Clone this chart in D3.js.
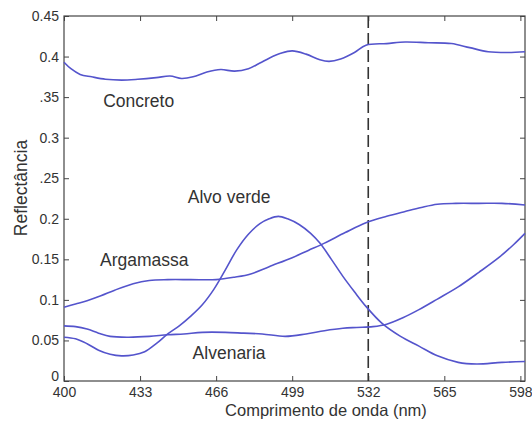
<!DOCTYPE html>
<html>
<head>
<meta charset="utf-8">
<script src="https://d3js.org/d3.v7.min.js"></script>
<style>
  body { margin: 0; background: #fff; }
  text { font-family: "Liberation Sans", Arial, sans-serif; fill: #333; }
</style>
</head>
<body>
<script>
// wavelength (nm) / reflectance per material
const concretoWl  = [400,403,407,412,418,425,432,440,446,451,456,462,468,474,480,485,489,494,499,505,511,515,520,526,531,540,548,558,568,576,584,592,600];
const concretoVal = [0.393,0.385,0.378,0.375,0.372,0.371,0.372,0.374,0.376,0.373,0.375,0.381,0.384,0.382,0.385,0.392,0.398,0.404,0.407,0.403,0.396,0.394,0.397,0.405,0.414,0.416,0.418,0.417,0.416,0.411,0.406,0.405,0.406];

const argamassaWl  = [400,405,410,416,422,430,437,445,455,466,474,481,489,499,506,513,522,531,540,548,555,562,570,580,590,600];
const argamassaVal = [0.091,0.095,0.099,0.105,0.112,0.120,0.124,0.125,0.125,0.125,0.128,0.132,0.141,0.152,0.161,0.170,0.183,0.195,0.203,0.209,0.214,0.218,0.219,0.219,0.219,0.217];

const alvoWl  = [400,405,410,415,420,425,430,435,440,445,450,455,460,465,470,475,480,485,489,493,497,502,507,511,516,521,526,531,538,546,554,562,571,579,590,600];
const alvoVal = [0.054,0.052,0.046,0.038,0.033,0.031,0.032,0.036,0.046,0.058,0.068,0.080,0.094,0.113,0.137,0.162,0.181,0.194,0.200,0.203,0.200,0.193,0.182,0.170,0.150,0.129,0.110,0.092,0.071,0.055,0.043,0.031,0.023,0.021,0.023,0.024];

const alvenariaWl  = [400,405,410,415,420,428,437,445,452,460,470,478,486,496,505,513,521,527,534,540,547,554,562,571,580,589,595,600];
const alvenariaVal = [0.068,0.067,0.064,0.059,0.055,0.054,0.055,0.057,0.058,0.060,0.060,0.059,0.058,0.055,0.058,0.062,0.065,0.066,0.067,0.070,0.078,0.088,0.101,0.116,0.134,0.153,0.168,0.182];

const labelNames = ["Concreto", "Alvo verde", "Argamassa", "Alvenaria"];
const labelWl    = [417, 453.7, 415.6, 455.8];
const labelVal   = [0.338, 0.2195, 0.1418, 0.0271];

const xTicks = [400, 433, 466, 499, 532, 565, 598];
const yTicks = [0, 0.05, 0.1, 0.15, 0.2, 0.25, 0.3, 0.35, 0.4, 0.45];
const yTickLabels = ["0", "0.05", "0.1", "0.15", "0.2", ".25", "0.3", ".35", "0.4", "0.45"];
const markerWl = 532;

const w = 532, h = 427;
const padL = 64, padT = 16, padR = 525, padB = 381;

const svg = d3.select("body").append("svg")
    .attr("width", w)
    .attr("height", h);

const x = d3.scaleLinear().domain([400, 600]).range([padL, padR]);
const y = d3.scaleLinear().domain([0, 0.45]).range([padB, padT]);

// axes with inward ticks (box style)
svg.append("g")
    .attr("transform", "translate(0," + padB + ")")
    .call(d3.axisBottom(x).tickValues(xTicks).tickFormat(d3.format("d")).tickSize(-5).tickPadding(6))
    .call(g => g.selectAll("text").style("font-size", "14px"));
svg.append("g")
    .attr("transform", "translate(0," + padT + ")")
    .call(d3.axisTop(x).tickValues(xTicks).tickFormat("").tickSize(-5));
svg.append("g")
    .attr("transform", "translate(" + padL + ",0)")
    .call(d3.axisLeft(y).tickValues(yTicks).tickFormat((d, i) => yTickLabels[i]).tickSize(-5).tickPadding(5))
    .call(g => g.selectAll("text").style("font-size", "14px"))
    // the "0" sits a little higher, above the "400"
    .call(g => g.selectAll(".tick text").filter(d => d === 0).attr("dy", "-0.05em"));
svg.append("g")
    .attr("transform", "translate(" + padR + ",0)")
    .call(d3.axisRight(y).tickValues(yTicks).tickFormat("").tickSize(-5));

svg.selectAll(".domain").remove();
svg.selectAll(".tick line").attr("stroke", "#444");

svg.append("rect")
    .attr("x", padL)
    .attr("y", padT)
    .attr("width", padR - padL)
    .attr("height", padB - padT)
    .attr("fill", "none")
    .attr("stroke", "#444")
    .attr("stroke-width", 1.2);

// dashed marker at 532 nm
svg.append("line")
    .attr("x1", x(markerWl)).attr("x2", x(markerWl))
    .attr("y1", y(0.45)).attr("y2", y(0))
    .attr("stroke", "#333")
    .attr("stroke-width", 1.6)
    .attr("stroke-dasharray", "12,5");

const line = d3.line()
    .x(d => x(d[0]))
    .y(d => y(d[1]))
    .curve(d3.curveCatmullRom.alpha(0.5));

const series = [
    [concretoWl, concretoVal],
    [argamassaWl, argamassaVal],
    [alvoWl, alvoVal],
    [alvenariaWl, alvenariaVal]
];

svg.selectAll("path.curve")
    .data(series)
    .enter()
    .append("path")
    .attr("class", "curve")
    .attr("d", s => line(d3.zip(s[0], s[1])))
    .attr("fill", "none")
    .attr("stroke", "#5454cc")
    .attr("stroke-width", 1.6);

svg.selectAll("text.lbl")
    .data(labelNames)
    .enter()
    .append("text")
    .attr("class", "lbl")
    .attr("x", (d, i) => x(labelWl[i]))
    .attr("y", (d, i) => y(labelVal[i]))
    .style("font-size", "17.5px")
    .text(d => d);

svg.append("text")
    .attr("x", 326)
    .attr("y", 416)
    .attr("text-anchor", "middle")
    .style("font-size", "16.5px")
    .text("Comprimento de onda (nm)");

svg.append("text")
    .attr("transform", "translate(27,188) rotate(-90)")
    .attr("text-anchor", "middle")
    .style("font-size", "17.5px")
    .text("Reflectância");
</script>
</body>
</html>
